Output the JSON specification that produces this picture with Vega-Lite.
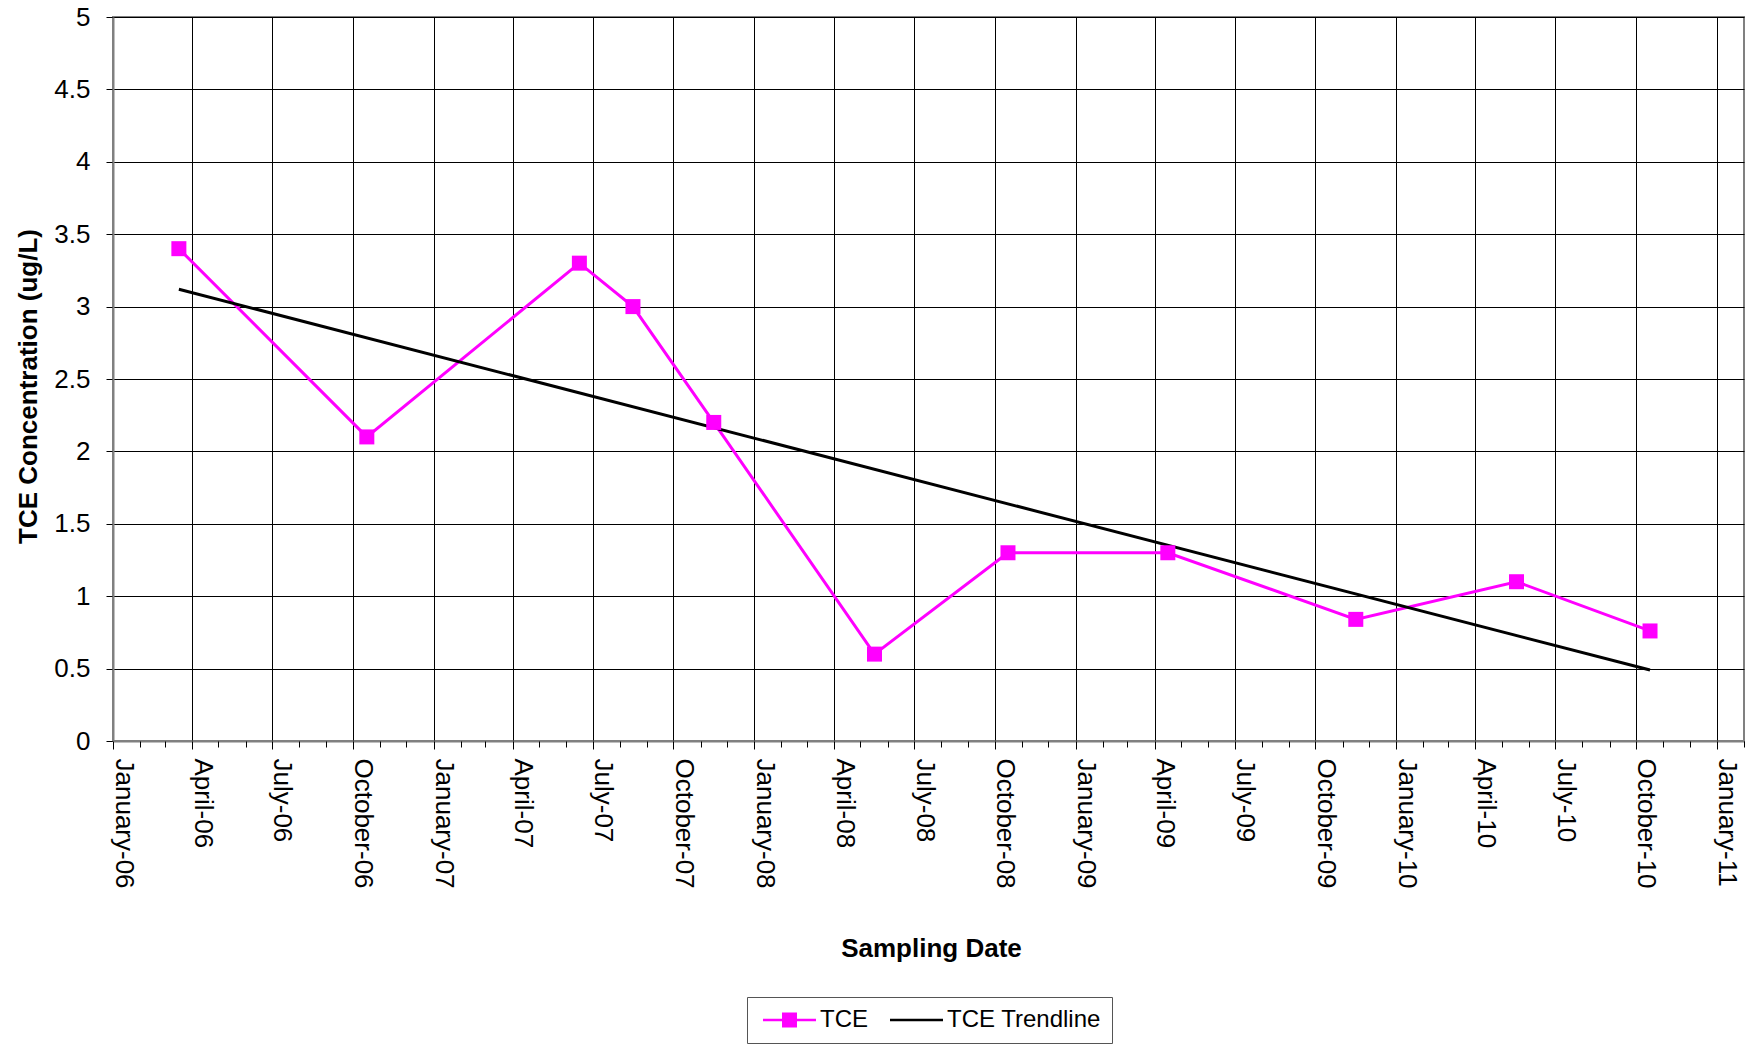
{
  "$schema": "https://vega.github.io/schema/vega-lite/v6.json",
  "width": 1631,
  "height": 724,
  "autosize": {"type": "none"},
  "padding": {"left": 113, "top": 17, "right": 12, "bottom": 311},
  "background": "white",
  "config": {
    "view": {"stroke": "#808080", "strokeWidth": 2},
    "font": "Liberation Sans",
    "axis": {
      "labelFont": "Liberation Sans",
      "titleFont": "Liberation Sans",
      "labelColor": "black",
      "titleColor": "black",
      "labelFontSize": 26,
      "titleFontSize": 26,
      "titleFontWeight": "bold",
      "gridColor": "black",
      "gridWidth": 1,
      "gridOpacity": 1,
      "tickColor": "black",
      "tickWidth": 1,
      "domainColor": "#808080",
      "domainWidth": 2
    }
  },
  "data": {
    "values": [
      {"date": "2006-03-17", "value": 3.4, "series": "TCE"},
      {"date": "2006-10-17", "value": 2.1, "series": "TCE"},
      {"date": "2007-06-16", "value": 3.3, "series": "TCE"},
      {"date": "2007-08-16", "value": 3.0, "series": "TCE"},
      {"date": "2007-11-16", "value": 2.2, "series": "TCE"},
      {"date": "2008-05-17", "value": 0.6, "series": "TCE"},
      {"date": "2008-10-16", "value": 1.3, "series": "TCE"},
      {"date": "2009-04-16", "value": 1.3, "series": "TCE"},
      {"date": "2009-11-16", "value": 0.84, "series": "TCE"},
      {"date": "2010-05-18", "value": 1.1, "series": "TCE"},
      {"date": "2010-10-17", "value": 0.76, "series": "TCE"},
      {"date": "2006-03-17", "value": 3.12, "series": "TCE Trendline"},
      {"date": "2010-10-17", "value": 0.49, "series": "TCE Trendline"}
    ]
  },
  "layer": [
    {
      "mark": {"type": "line", "strokeWidth": 3, "clip": false},
      "encoding": {
        "x": {
          "field": "date",
          "type": "temporal",
          "scale": {"domain": [{"year": 2006, "month": 1, "date": 1}, {"year": 2011, "month": 2, "date": 1}]},
          "axis": {
            "tickCount": {"interval": "month", "step": 3},
            "format": "%B-%y",
            "labelAngle": 90,
            "labelAlign": "left",
            "labelBaseline": "alphabetic",
            "labelOffset": 2,
            "labelPadding": 9,
            "labelFlush": false,
            "labelOverlap": false,
            "tickSize": 8,
            "grid": true,
            "title": "Sampling Date",
            "titleX": 818,
            "titleY": 207,
            "titleAlign": "center",
            "titleBaseline": "middle"
          }
        },
        "y": {
          "field": "value",
          "type": "quantitative",
          "scale": {"domain": [0, 5]},
          "axis": {
            "values": [0, 0.5, 1, 1.5, 2, 2.5, 3, 3.5, 4, 4.5, 5],
            "format": "~g",
            "tickSize": 7,
            "labelPadding": 16,
            "grid": true,
            "title": "TCE Concentration (ug/L)",
            "titleAngle": -90,
            "titleX": -85,
            "titleY": 369,
            "titleAlign": "center",
            "titleBaseline": "middle"
          }
        },
        "color": {
          "field": "series",
          "type": "nominal",
          "scale": {"domain": ["TCE", "TCE Trendline"], "range": ["#FF00FF", "#000000"]},
          "legend": {
            "orient": "none",
            "legendX": 634,
            "legendY": 980,
            "direction": "horizontal",
            "title": null,
            "labelFont": "Liberation Sans",
            "labelFontSize": 24,
            "labelColor": "black",
            "labelLimit": 400,
            "symbolSize": 196,
            "symbolStrokeWidth": 2.5,
            "labelOffset": 38,
            "columnPadding": 17,
            "padding": 11,
            "strokeColor": "#555555",
            "fillColor": "white",
            "encode": {
              "symbols": {
                "update": {
                  "shape": {"signal": "datum.value === 'TCE' ? 'M-1,0H6.571M1.896,-0.89H3.676V0.89H1.896Z' : 'M-1,0H6.571'"},
                  "fill": {"scale": "color", "field": "value"},
                  "stroke": {"scale": "color", "field": "value"},
                  "strokeWidth": {"value": 2.5},
                  "opacity": {"value": 1}
                }
              }
            }
          }
        }
      }
    },
    {
      "transform": [{"filter": "datum.series === 'TCE'"}],
      "mark": {"type": "point", "shape": "square", "filled": true, "size": 225, "color": "#FF00FF", "opacity": 1, "clip": false},
      "encoding": {
        "x": {
          "field": "date",
          "type": "temporal",
          "axis": {
            "orient": "bottom",
            "tickCount": {"interval": "month", "step": 1},
            "labels": false,
            "grid": false,
            "domain": false,
            "tickSize": 6,
            "title": null
          }
        },
        "y": {"field": "value", "type": "quantitative"}
      }
    }
  ],
  "resolve": {"axis": {"x": "independent"}}
}
